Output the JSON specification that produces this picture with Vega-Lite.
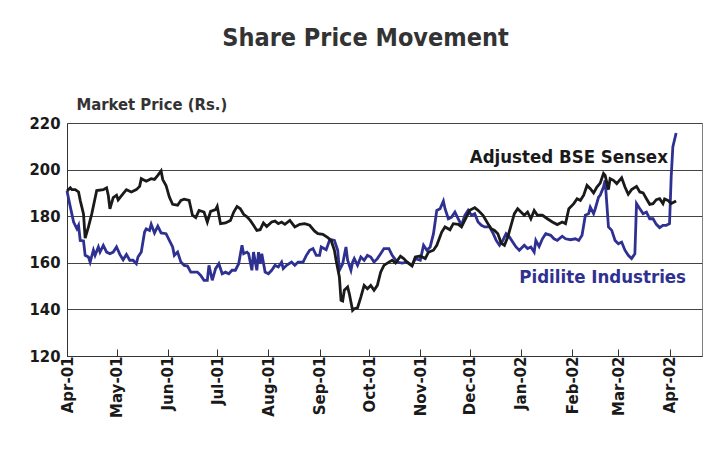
{
  "$schema": "https://vega.github.io/schema/vega-lite/v6.json",
  "width": 635,
  "height": 233,
  "autosize": {"type": "none"},
  "padding": {"left": 67, "top": 123, "right": 5, "bottom": 103},
  "background": "white",
  "title": {
    "text": "Share Price Movement",
    "font": "DejaVu Sans Condensed",
    "fontSize": 25,
    "fontWeight": "bold",
    "color": "#333333",
    "anchor": "middle",
    "frame": "bounds",
    "offset": 45
  },
  "datasets": {
    "sensex": [
      {"d": "2001-04-01", "v": 190.8}, {"d": "2001-04-03", "v": 192.2}, {"d": "2001-04-04", "v": 191.4}, {"d": "2001-04-06", "v": 191.4},
      {"d": "2001-04-08", "v": 190.4}, {"d": "2001-04-09", "v": 186.8}, {"d": "2001-04-11", "v": 181}, {"d": "2001-04-12", "v": 170.6},
      {"d": "2001-04-14", "v": 175.4}, {"d": "2001-04-16", "v": 181}, {"d": "2001-04-19", "v": 191}, {"d": "2001-04-23", "v": 191.4},
      {"d": "2001-04-25", "v": 192.2}, {"d": "2001-04-26", "v": 189}, {"d": "2001-04-27", "v": 183.2}, {"d": "2001-04-29", "v": 188},
      {"d": "2001-05-01", "v": 189}, {"d": "2001-05-02", "v": 187}, {"d": "2001-05-05", "v": 189.7}, {"d": "2001-05-07", "v": 191.4},
      {"d": "2001-05-10", "v": 190.4}, {"d": "2001-05-13", "v": 191.4}, {"d": "2001-05-15", "v": 192.8}, {"d": "2001-05-16", "v": 196.1},
      {"d": "2001-05-19", "v": 195}, {"d": "2001-05-22", "v": 196.1}, {"d": "2001-05-24", "v": 195.8}, {"d": "2001-05-26", "v": 197.5},
      {"d": "2001-05-28", "v": 199.4}, {"d": "2001-05-29", "v": 195.7}, {"d": "2001-05-31", "v": 193.2}, {"d": "2001-06-02", "v": 188.2},
      {"d": "2001-06-04", "v": 185.1}, {"d": "2001-06-07", "v": 184.7}, {"d": "2001-06-09", "v": 186.8}, {"d": "2001-06-11", "v": 187.3},
      {"d": "2001-06-14", "v": 186.8}, {"d": "2001-06-16", "v": 180.4}, {"d": "2001-06-18", "v": 179.4}, {"d": "2001-06-20", "v": 182.5},
      {"d": "2001-06-23", "v": 181.8}, {"d": "2001-06-25", "v": 177.5}, {"d": "2001-06-27", "v": 182.1}, {"d": "2001-06-30", "v": 182.8},
      {"d": "2001-07-01", "v": 184.2}, {"d": "2001-07-03", "v": 176.8}, {"d": "2001-07-06", "v": 177.1}, {"d": "2001-07-09", "v": 178.2},
      {"d": "2001-07-11", "v": 181.8}, {"d": "2001-07-13", "v": 184.2}, {"d": "2001-07-15", "v": 183.2}, {"d": "2001-07-17", "v": 180.8},
      {"d": "2001-07-19", "v": 179.7}, {"d": "2001-07-21", "v": 178.2}, {"d": "2001-07-23", "v": 176.1}, {"d": "2001-07-25", "v": 173.9},
      {"d": "2001-07-27", "v": 174.2}, {"d": "2001-07-29", "v": 177.1}, {"d": "2001-07-31", "v": 175.6}, {"d": "2001-08-03", "v": 177.5},
      {"d": "2001-08-05", "v": 177.9}, {"d": "2001-08-07", "v": 176.8}, {"d": "2001-08-09", "v": 177.5}, {"d": "2001-08-11", "v": 176.5},
      {"d": "2001-08-14", "v": 178.2}, {"d": "2001-08-17", "v": 175.4}, {"d": "2001-08-20", "v": 176.5}, {"d": "2001-08-23", "v": 176.8},
      {"d": "2001-08-26", "v": 176.1}, {"d": "2001-08-29", "v": 173.6}, {"d": "2001-08-31", "v": 172.5}, {"d": "2001-09-03", "v": 172.2},
      {"d": "2001-09-06", "v": 170.8}, {"d": "2001-09-08", "v": 169.6}, {"d": "2001-09-10", "v": 165.4}, {"d": "2001-09-11", "v": 161.1},
      {"d": "2001-09-13", "v": 153.9}, {"d": "2001-09-14", "v": 143.9}, {"d": "2001-09-15", "v": 143.6}, {"d": "2001-09-16", "v": 148.2},
      {"d": "2001-09-18", "v": 149.6}, {"d": "2001-09-19", "v": 146.8}, {"d": "2001-09-21", "v": 139.6}, {"d": "2001-09-22", "v": 140.3},
      {"d": "2001-09-24", "v": 140.7}, {"d": "2001-09-26", "v": 145.3}, {"d": "2001-09-28", "v": 150.3}, {"d": "2001-09-30", "v": 148.9},
      {"d": "2001-10-02", "v": 150.3}, {"d": "2001-10-04", "v": 148.2}, {"d": "2001-10-06", "v": 150.3}, {"d": "2001-10-08", "v": 156},
      {"d": "2001-10-10", "v": 158.9}, {"d": "2001-10-13", "v": 160.3}, {"d": "2001-10-15", "v": 161.1}, {"d": "2001-10-17", "v": 159.9},
      {"d": "2001-10-20", "v": 162.8}, {"d": "2001-10-22", "v": 161.8}, {"d": "2001-10-24", "v": 160.3}, {"d": "2001-10-27", "v": 158.6},
      {"d": "2001-10-29", "v": 162.5}, {"d": "2001-11-01", "v": 162.9}, {"d": "2001-11-04", "v": 161.8}, {"d": "2001-11-06", "v": 164.6},
      {"d": "2001-11-09", "v": 165.4}, {"d": "2001-11-11", "v": 167.5}, {"d": "2001-11-14", "v": 173.2}, {"d": "2001-11-16", "v": 175.4},
      {"d": "2001-11-19", "v": 174.2}, {"d": "2001-11-21", "v": 176.8}, {"d": "2001-11-24", "v": 176.5}, {"d": "2001-11-26", "v": 175.4},
      {"d": "2001-11-29", "v": 179.7}, {"d": "2001-12-01", "v": 182.5}, {"d": "2001-12-04", "v": 183.7}, {"d": "2001-12-06", "v": 182.5},
      {"d": "2001-12-09", "v": 180.4}, {"d": "2001-12-12", "v": 176.8}, {"d": "2001-12-14", "v": 174.6}, {"d": "2001-12-16", "v": 173.9},
      {"d": "2001-12-18", "v": 172.5}, {"d": "2001-12-20", "v": 168.5}, {"d": "2001-12-22", "v": 167.5}, {"d": "2001-12-24", "v": 171.1},
      {"d": "2001-12-26", "v": 176.1}, {"d": "2001-12-28", "v": 181.1}, {"d": "2001-12-30", "v": 183.2}, {"d": "2002-01-01", "v": 181.8},
      {"d": "2002-01-03", "v": 180.4}, {"d": "2002-01-05", "v": 181.8}, {"d": "2002-01-07", "v": 178.9}, {"d": "2002-01-09", "v": 182.5},
      {"d": "2002-01-11", "v": 180.4}, {"d": "2002-01-14", "v": 180.4}, {"d": "2002-01-17", "v": 178.9}, {"d": "2002-01-20", "v": 177.5},
      {"d": "2002-01-23", "v": 176.4}, {"d": "2002-01-26", "v": 177.5}, {"d": "2002-01-28", "v": 176.8}, {"d": "2002-01-30", "v": 183.2},
      {"d": "2002-02-02", "v": 185.4}, {"d": "2002-02-04", "v": 187.5}, {"d": "2002-02-06", "v": 186.8}, {"d": "2002-02-08", "v": 189},
      {"d": "2002-02-10", "v": 193.2}, {"d": "2002-02-12", "v": 191.8}, {"d": "2002-02-14", "v": 190}, {"d": "2002-02-16", "v": 192.5},
      {"d": "2002-02-18", "v": 194.2}, {"d": "2002-02-20", "v": 198.3}, {"d": "2002-02-21", "v": 197.5}, {"d": "2002-02-23", "v": 191.4},
      {"d": "2002-02-24", "v": 196.1}, {"d": "2002-02-26", "v": 195.4}, {"d": "2002-02-28", "v": 194}, {"d": "2002-03-03", "v": 196.5},
      {"d": "2002-03-05", "v": 192.5}, {"d": "2002-03-07", "v": 189.4}, {"d": "2002-03-09", "v": 191.4}, {"d": "2002-03-12", "v": 192.8},
      {"d": "2002-03-14", "v": 190.4}, {"d": "2002-03-16", "v": 190}, {"d": "2002-03-18", "v": 187.5}, {"d": "2002-03-20", "v": 185.1},
      {"d": "2002-03-22", "v": 185.4}, {"d": "2002-03-24", "v": 187.1}, {"d": "2002-03-26", "v": 187.5}, {"d": "2002-03-28", "v": 185.4},
      {"d": "2002-03-29", "v": 187.4}, {"d": "2002-03-31", "v": 186.8}, {"d": "2002-04-02", "v": 185.4}, {"d": "2002-04-05", "v": 186.5}
    ],
    "pidilite": [
      {"d": "2001-04-01", "v": 190.8}, {"d": "2001-04-03", "v": 184}, {"d": "2001-04-05", "v": 177.5}, {"d": "2001-04-07", "v": 174.6},
      {"d": "2001-04-08", "v": 176.1}, {"d": "2001-04-09", "v": 169.6}, {"d": "2001-04-11", "v": 169.4}, {"d": "2001-04-12", "v": 163.2},
      {"d": "2001-04-14", "v": 162.5}, {"d": "2001-04-15", "v": 160.3}, {"d": "2001-04-17", "v": 165.4}, {"d": "2001-04-18", "v": 163.2},
      {"d": "2001-04-20", "v": 166.8}, {"d": "2001-04-21", "v": 164.6}, {"d": "2001-04-23", "v": 167.5}, {"d": "2001-04-25", "v": 164.6},
      {"d": "2001-04-27", "v": 163.9}, {"d": "2001-04-29", "v": 164.6}, {"d": "2001-05-01", "v": 166.8}, {"d": "2001-05-03", "v": 163.6},
      {"d": "2001-05-05", "v": 161.3}, {"d": "2001-05-07", "v": 163.6}, {"d": "2001-05-09", "v": 161.1}, {"d": "2001-05-11", "v": 161.1},
      {"d": "2001-05-13", "v": 159.6}, {"d": "2001-05-14", "v": 162.5}, {"d": "2001-05-16", "v": 164.6}, {"d": "2001-05-18", "v": 173.2},
      {"d": "2001-05-19", "v": 174.6}, {"d": "2001-05-21", "v": 173.9}, {"d": "2001-05-22", "v": 176.5}, {"d": "2001-05-24", "v": 172.8},
      {"d": "2001-05-26", "v": 175.7}, {"d": "2001-05-28", "v": 172.8}, {"d": "2001-05-31", "v": 172.5}, {"d": "2001-06-02", "v": 169.6},
      {"d": "2001-06-04", "v": 166.8}, {"d": "2001-06-05", "v": 163.2}, {"d": "2001-06-07", "v": 164.6}, {"d": "2001-06-09", "v": 160.3},
      {"d": "2001-06-11", "v": 158.9}, {"d": "2001-06-13", "v": 158.6}, {"d": "2001-06-15", "v": 156}, {"d": "2001-06-17", "v": 156},
      {"d": "2001-06-19", "v": 156}, {"d": "2001-06-21", "v": 154.6}, {"d": "2001-06-23", "v": 152.5}, {"d": "2001-06-25", "v": 152.5},
      {"d": "2001-06-26", "v": 158.9}, {"d": "2001-06-28", "v": 152.5}, {"d": "2001-06-30", "v": 157.5}, {"d": "2001-07-02", "v": 159.6},
      {"d": "2001-07-04", "v": 155.3}, {"d": "2001-07-06", "v": 156}, {"d": "2001-07-08", "v": 155.3}, {"d": "2001-07-10", "v": 156.8},
      {"d": "2001-07-12", "v": 156.8}, {"d": "2001-07-14", "v": 159.6}, {"d": "2001-07-16", "v": 167.5}, {"d": "2001-07-17", "v": 163.9},
      {"d": "2001-07-19", "v": 164.6}, {"d": "2001-07-20", "v": 163.9}, {"d": "2001-07-22", "v": 156.8}, {"d": "2001-07-23", "v": 164.6},
      {"d": "2001-07-25", "v": 156.8}, {"d": "2001-07-26", "v": 164.6}, {"d": "2001-07-27", "v": 159.6}, {"d": "2001-07-28", "v": 163.9},
      {"d": "2001-07-30", "v": 156}, {"d": "2001-08-01", "v": 155.3}, {"d": "2001-08-03", "v": 156.8}, {"d": "2001-08-05", "v": 158.9},
      {"d": "2001-08-07", "v": 158.2}, {"d": "2001-08-09", "v": 160.3}, {"d": "2001-08-10", "v": 157.5}, {"d": "2001-08-12", "v": 158.9},
      {"d": "2001-08-15", "v": 160.3}, {"d": "2001-08-17", "v": 158.9}, {"d": "2001-08-19", "v": 160.3}, {"d": "2001-08-22", "v": 160.3},
      {"d": "2001-08-24", "v": 163.2}, {"d": "2001-08-26", "v": 165.4}, {"d": "2001-08-28", "v": 166.1}, {"d": "2001-08-30", "v": 163.2},
      {"d": "2001-09-01", "v": 163.2}, {"d": "2001-09-02", "v": 166.8}, {"d": "2001-09-05", "v": 165.6}, {"d": "2001-09-07", "v": 169.6},
      {"d": "2001-09-08", "v": 169.9}, {"d": "2001-09-10", "v": 169.6}, {"d": "2001-09-12", "v": 165.4}, {"d": "2001-09-13", "v": 156.8},
      {"d": "2001-09-15", "v": 159.6}, {"d": "2001-09-17", "v": 166.8}, {"d": "2001-09-18", "v": 161.1}, {"d": "2001-09-20", "v": 156.8},
      {"d": "2001-09-21", "v": 160.3}, {"d": "2001-09-22", "v": 161.8}, {"d": "2001-09-24", "v": 158.9}, {"d": "2001-09-26", "v": 162.5},
      {"d": "2001-09-28", "v": 161.1}, {"d": "2001-09-30", "v": 163.2}, {"d": "2001-10-02", "v": 162.5}, {"d": "2001-10-04", "v": 160.3},
      {"d": "2001-10-06", "v": 161.8}, {"d": "2001-10-08", "v": 163.9}, {"d": "2001-10-10", "v": 166.1}, {"d": "2001-10-13", "v": 166.1},
      {"d": "2001-10-15", "v": 163.2}, {"d": "2001-10-18", "v": 160.3}, {"d": "2001-10-21", "v": 159.9}, {"d": "2001-10-24", "v": 160.3},
      {"d": "2001-10-27", "v": 158.9}, {"d": "2001-10-29", "v": 161.8}, {"d": "2001-11-01", "v": 161.1}, {"d": "2001-11-03", "v": 167.5},
      {"d": "2001-11-05", "v": 165.4}, {"d": "2001-11-07", "v": 166.8}, {"d": "2001-11-09", "v": 172.5}, {"d": "2001-11-11", "v": 182.5},
      {"d": "2001-11-13", "v": 183.2}, {"d": "2001-11-15", "v": 186.5}, {"d": "2001-11-16", "v": 183.2}, {"d": "2001-11-18", "v": 178.9},
      {"d": "2001-11-20", "v": 179.6}, {"d": "2001-11-22", "v": 181.8}, {"d": "2001-11-24", "v": 178.9}, {"d": "2001-11-26", "v": 176.1},
      {"d": "2001-11-28", "v": 180.4}, {"d": "2001-11-30", "v": 182.5}, {"d": "2001-12-02", "v": 180.4}, {"d": "2001-12-04", "v": 181.1},
      {"d": "2001-12-06", "v": 177.5}, {"d": "2001-12-08", "v": 176.1}, {"d": "2001-12-10", "v": 175.4}, {"d": "2001-12-13", "v": 175.4},
      {"d": "2001-12-15", "v": 172.8}, {"d": "2001-12-17", "v": 169.6}, {"d": "2001-12-19", "v": 167.5}, {"d": "2001-12-21", "v": 169.6},
      {"d": "2001-12-23", "v": 172.5}, {"d": "2001-12-25", "v": 171.1}, {"d": "2001-12-27", "v": 168.9}, {"d": "2001-12-29", "v": 166.8},
      {"d": "2001-12-31", "v": 165.4}, {"d": "2002-01-03", "v": 167.5}, {"d": "2002-01-05", "v": 166.1}, {"d": "2002-01-07", "v": 166.8},
      {"d": "2002-01-09", "v": 164.6}, {"d": "2002-01-10", "v": 169.6}, {"d": "2002-01-12", "v": 167}, {"d": "2002-01-14", "v": 170.3},
      {"d": "2002-01-16", "v": 172.5}, {"d": "2002-01-19", "v": 171.8}, {"d": "2002-01-21", "v": 170.3}, {"d": "2002-01-23", "v": 169.6},
      {"d": "2002-01-26", "v": 171.4}, {"d": "2002-01-28", "v": 170.3}, {"d": "2002-01-31", "v": 169.9}, {"d": "2002-02-03", "v": 170.3},
      {"d": "2002-02-05", "v": 169.6}, {"d": "2002-02-07", "v": 171.8}, {"d": "2002-02-09", "v": 180.4}, {"d": "2002-02-11", "v": 181.1},
      {"d": "2002-02-12", "v": 183.9}, {"d": "2002-02-14", "v": 181.1}, {"d": "2002-02-15", "v": 183.2}, {"d": "2002-02-17", "v": 188.2},
      {"d": "2002-02-18", "v": 189}, {"d": "2002-02-20", "v": 192.5}, {"d": "2002-02-21", "v": 195.4}, {"d": "2002-02-22", "v": 185.4},
      {"d": "2002-02-23", "v": 175.4}, {"d": "2002-02-25", "v": 173.9}, {"d": "2002-02-27", "v": 169.6}, {"d": "2002-03-01", "v": 168.2},
      {"d": "2002-03-03", "v": 168.9}, {"d": "2002-03-05", "v": 165.4}, {"d": "2002-03-07", "v": 163.2}, {"d": "2002-03-09", "v": 161.8},
      {"d": "2002-03-11", "v": 163.9}, {"d": "2002-03-12", "v": 185.4}, {"d": "2002-03-14", "v": 183.2}, {"d": "2002-03-16", "v": 181.1},
      {"d": "2002-03-18", "v": 181.8}, {"d": "2002-03-20", "v": 178.9}, {"d": "2002-03-22", "v": 178.9}, {"d": "2002-03-24", "v": 176.5},
      {"d": "2002-03-26", "v": 175.1}, {"d": "2002-03-28", "v": 176.1}, {"d": "2002-03-30", "v": 176.1}, {"d": "2002-04-01", "v": 176.8},
      {"d": "2002-04-02", "v": 196.8}, {"d": "2002-04-03", "v": 209.7}, {"d": "2002-04-05", "v": 215.7}
    ],
    "labels": [
      {"d": "2002-03-31", "v": 202.8, "label": "Adjusted BSE Sensex"},
      {"d": "2002-04-11", "v": 151.3, "label": "Pidilite Industries"}
    ]
  },
  "encoding": {
    "x": {
      "field": "d",
      "type": "temporal",
      "scale": {
        "type": "utc",
        "domain": [
          {"year": 2001, "month": 4, "date": 1, "utc": true},
          {"year": 2002, "month": 4, "date": 20, "hours": 16, "utc": true}
        ]
      },
      "axis": {
        "title": null,
        "values": [
          {"year": 2001, "month": 4, "date": 1, "utc": true},
          {"year": 2001, "month": 5, "date": 1, "utc": true},
          {"year": 2001, "month": 6, "date": 1, "utc": true},
          {"year": 2001, "month": 7, "date": 1, "utc": true},
          {"year": 2001, "month": 8, "date": 1, "utc": true},
          {"year": 2001, "month": 9, "date": 1, "utc": true},
          {"year": 2001, "month": 10, "date": 1, "utc": true},
          {"year": 2001, "month": 11, "date": 1, "utc": true},
          {"year": 2001, "month": 12, "date": 1, "utc": true},
          {"year": 2002, "month": 1, "date": 1, "utc": true},
          {"year": 2002, "month": 2, "date": 1, "utc": true},
          {"year": 2002, "month": 3, "date": 1, "utc": true},
          {"year": 2002, "month": 4, "date": 1, "utc": true}
        ],
        "format": "%b-%y",
        "labelAngle": -90,
        "labelFont": "DejaVu Sans",
        "labelFontSize": 15,
        "labelFontWeight": "bold",
        "labelColor": "#1a1a1a",
        "labelPadding": 7,
        "labelOverlap": false,
        "labelFlush": false,
        "tickSize": -7,
        "tickColor": "#333333",
        "domainColor": "#333333",
        "grid": false
      }
    },
    "y": {
      "field": "v",
      "type": "quantitative",
      "scale": {"domain": [120, 220], "nice": false, "zero": false},
      "axis": {
        "title": "Market Price (Rs.)",
        "titleAngle": 0,
        "titleAlign": "left",
        "titleBaseline": "alphabetic",
        "titleX": 9,
        "titleY": -14,
        "titleFont": "DejaVu Sans Condensed",
        "titleFontSize": 16.5,
        "titleFontWeight": "bold",
        "titleColor": "#333333",
        "values": [120, 140, 160, 180, 200, 220],
        "ticks": false,
        "labelFont": "DejaVu Sans Condensed",
        "labelFontSize": 16.5,
        "labelFontWeight": "bold",
        "labelColor": "#1a1a1a",
        "labelPadding": 7,
        "domainColor": "#333333",
        "grid": true,
        "gridColor": "#444444",
        "gridWidth": 1
      }
    }
  },
  "layer": [
    {
      "data": {"name": "pidilite"},
      "mark": {"type": "line", "color": "#2E3192", "strokeWidth": 2.8}
    },
    {
      "data": {"name": "sensex"},
      "mark": {"type": "line", "color": "#1a1a1a", "strokeWidth": 2.8}
    },
    {
      "data": {"name": "labels"},
      "mark": {"type": "text", "align": "right", "baseline": "alphabetic", "font": "DejaVu Sans Condensed", "fontSize": 18.5, "fontWeight": "bold"},
      "encoding": {
        "text": {"field": "label", "type": "nominal"},
        "color": {
          "field": "label",
          "type": "nominal",
          "scale": {"domain": ["Adjusted BSE Sensex", "Pidilite Industries"], "range": ["#1a1a1a", "#2E3192"]},
          "legend": null
        }
      }
    }
  ],
  "config": {
    "view": {"stroke": "#808080", "strokeWidth": 1}
  }
}
